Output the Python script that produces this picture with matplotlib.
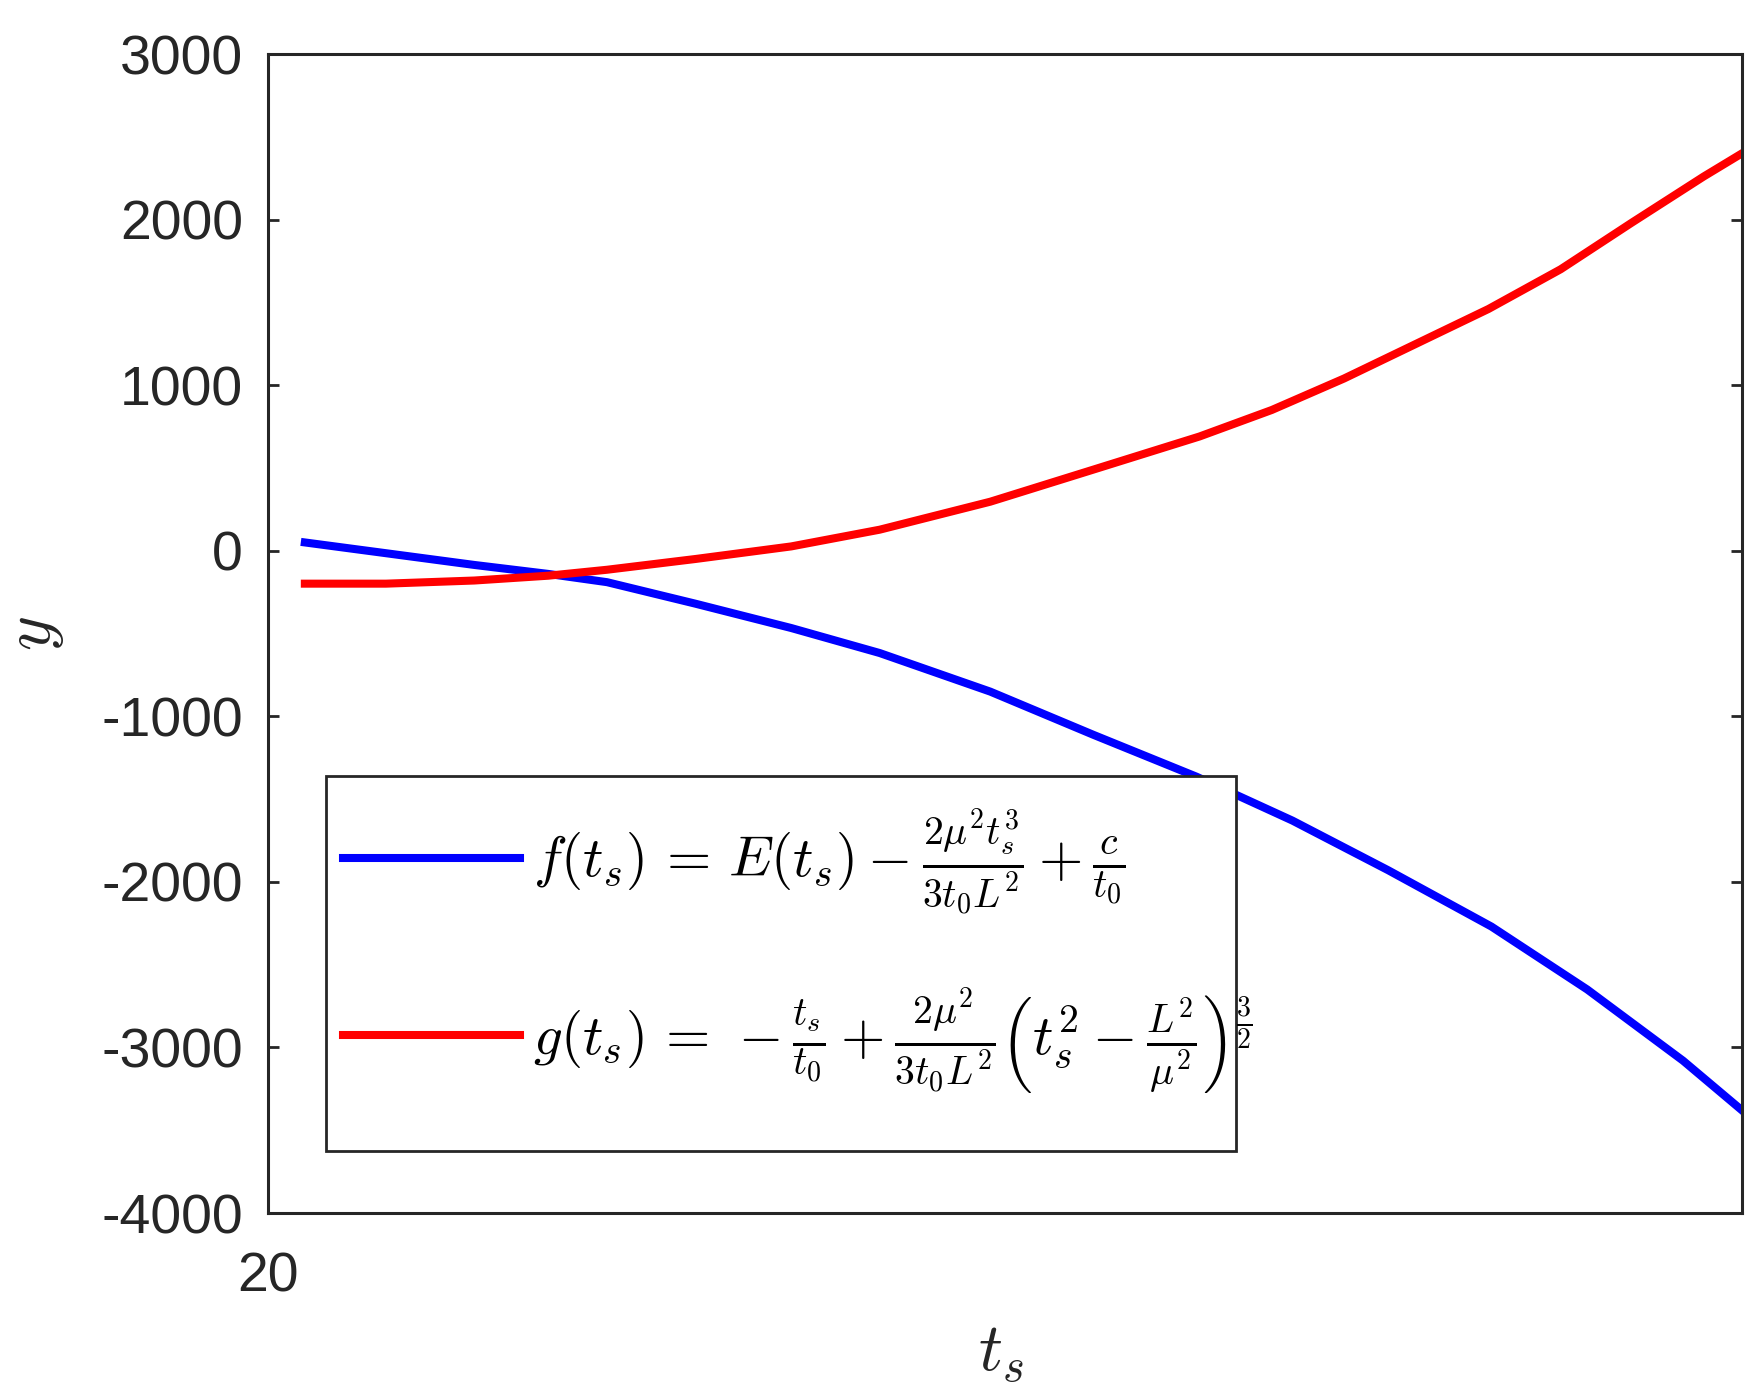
import matplotlib
matplotlib.use('Agg')
import matplotlib.pyplot as plt
from matplotlib.patches import Rectangle

plt.rcParams['mathtext.fontset'] = 'cm'
plt.rcParams['font.family'] = ['Liberation Sans', 'DejaVu Sans']
plt.rcParams['axes.unicode_minus'] = False

# values
ts_f = [20.25, 20.8, 21.4, 21.9, 22.3, 22.9, 23.55, 24.15, 24.9, 25.6,
        26.3, 26.95, 27.6, 28.3, 28.95, 29.6, 30.0]
f_vals = [50, -15, -86, -140, -190, -320, -467, -618, -851, -1112,
          -1365, -1630, -1930, -2270, -2650, -3080, -3380]

ts_g = [20.25, 20.8, 21.4, 21.9, 22.3, 22.9, 23.55, 24.15, 24.9, 25.6,
        26.32, 26.81, 27.3, 27.79, 28.28, 28.77, 29.25, 29.74, 30.0]
g_vals = [-199, -199, -180, -151, -115, -50, 26, 127, 296, 490,
          690, 850, 1040, 1250, 1460, 1700, 1980, 2260, 2400]

f_label = r'$f(t_s)\, =\, E(t_s) - \frac{2\mu^2 t_s^3}{3t_0L^2} + \frac{c}{t_0}$'
g_label = (r'$g(t_s)\, =\, -\frac{t_s}{t_0} + \frac{2\mu^2}{3t_0L^2}'
           r'\left(t_s^2 - \frac{L^2}{\mu^2}\right)^{\frac{3}{2}}$')

yticks = [3000, 2000, 1000, 0, -1000, -2000, -3000, -4000]
xticks = [20]

dark = '#262626'
W, H = 1764, 1397

fig = plt.figure(figsize=(W / 100, H / 100), dpi=100)
ax = fig.add_axes([268 / W, 1 - 1213 / H, 1474 / W, 1159 / H])

ax.plot(ts_f, f_vals, color='#0000ff', lw=5.8, label=f_label)
ax.plot(ts_g, g_vals, color='#ff0000', lw=5.8, label=g_label)

ax.set_xlim(20, 30)
ax.set_ylim(-4000, 3000)
ax.set_xticks(xticks)
ax.set_yticks(yticks)
ax.tick_params(direction='in', length=8, width=2, colors=dark,
               labelsize=40, right=True, top=True)
ax.tick_params(axis='x', pad=28)
ax.tick_params(axis='y', pad=18)
for s in ax.spines.values():
    s.set_linewidth(2.2)
    s.set_color(dark)

ax.set_xlabel(r'$t_s$', fontsize=48, color=dark)
ax.set_ylabel(r'$y$', fontsize=48, color=dark)
ax.xaxis.set_label_coords(0.497, -0.095)
ax.yaxis.set_label_coords(-0.137, 0.5)

# legend box (MATLAB style, text sits on white frame)
frame = Rectangle((326 / W, 1 - 1151 / H), 910 / W, 375 / H,
                  transform=fig.transFigure, facecolor='white',
                  edgecolor=dark, lw=2, zorder=4, clip_on=False)
ax.add_artist(frame)

leg = ax.legend(loc='upper left', bbox_to_anchor=(343 / W, 1 - 808 / H),
                bbox_transform=fig.transFigure, borderaxespad=0, borderpad=0,
                fontsize=41, handlelength=3.1, handletextpad=0.24,
                labelspacing=1.2, frameon=False)
leg.set_zorder(5)

fig.savefig('out.png', dpi=100)
